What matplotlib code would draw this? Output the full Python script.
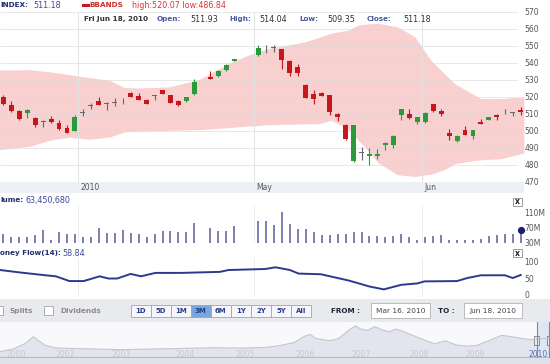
import numpy as np
import matplotlib
matplotlib.use("Agg")
import matplotlib.pyplot as plt
from matplotlib.patches import Rectangle

W, H = 550, 364

# trading-day index of each session shown (gaps = sessions missing in the feed)
day = list(range(0, 25)) + [26, 27, 28, 29] + list(range(32, 66))
opens = [519.9, 515.4, 511.6, 510.6, 507.5, 505.0, 506.7, 504.5, 501.5, 499.8,
         510.4, 514.5, 517.3, 515.9, 516.4, 517.2, 522.0, 520.4, 518.1, 520.6,
         523.7, 520.9, 517.3, 517.3, 521.7,
         531.7, 532.3, 535.7, 541.3,
         544.6, 548.3, 548.8, 547.9, 541.0, 537.3, 527.2, 521.7, 522.5, 520.9,
         510.0, 503.5, 481.8, 486.9, 485.0, 485.1, 491.7, 491.5, 509.5, 510.0,
         505.1, 505.1, 515.6, 511.6, 498.8, 493.8, 500.2, 496.6, 504.9, 506.5,
         509.2, 510.5, 510.6, 511.93]
highs = [520.9, 517.3, 512.0, 513.0, 508.0, 506.4, 508.6, 506.2, 503.2, 509.0,
         512.6, 516.2, 520.0, 516.8, 519.0, 519.3, 523.0, 522.5, 518.5, 520.9,
         524.2, 521.3, 518.3, 520.0, 530.4,
         535.1, 535.8, 539.2, 542.2,
         550.5, 550.5, 550.5, 548.2, 541.5, 539.2, 527.5, 523.8, 523.0, 521.2,
         510.3, 503.8, 503.3, 490.3, 489.5, 488.9, 493.5, 497.2, 513.0, 513.0,
         508.3, 510.8, 516.0, 513.0, 501.2, 497.2, 502.5, 500.5, 507.1, 508.3,
         510.0, 512.6, 510.9, 514.04]
lows = [515.2, 510.8, 506.2, 507.4, 502.0, 502.0, 504.6, 500.5, 498.6, 499.6,
        508.4, 512.6, 515.0, 512.4, 514.4, 516.0, 519.6, 517.8, 515.8, 518.3,
        521.5, 516.4, 514.8, 517.0, 521.3,
        530.5, 531.8, 535.4, 541.0,
        544.3, 545.6, 546.5, 536.1, 532.1, 532.3, 519.3, 516.0, 520.2, 509.1,
        505.5, 494.6, 481.5, 482.4, 479.9, 483.0, 488.3, 490.0, 506.5, 507.0,
        503.7, 504.8, 511.1, 508.5, 494.7, 493.2, 497.3, 494.8, 503.8, 506.0,
        506.5, 510.0, 508.5, 509.35]
closes = [516.0, 511.6, 506.7, 512.0, 503.1, 505.3, 505.1, 500.8, 498.8, 508.0,
          510.6, 514.8, 515.2, 516.1, 516.6, 517.4, 519.9, 518.0, 516.0, 520.8,
          521.7, 516.6, 515.0, 519.7, 528.8,
          530.7, 535.3, 538.6, 542.0,
          548.9, 548.0, 549.0, 541.6, 534.3, 534.3, 519.5, 518.9, 520.5, 511.0,
          508.0, 494.9, 503.1, 487.1, 486.4, 486.3, 493.0, 496.9, 512.6, 507.3,
          508.0, 510.4, 511.4, 510.0, 496.8, 496.8, 497.6, 500.2, 504.1, 508.0,
          508.0, 510.3, 510.4, 511.18]
volume_m = [53, 45, 47, 47, 51, 64.6, 38, 58, 53, 53,
            45, 47, 70.7, 55.8, 55.8, 64.6, 55.8, 53, 47, 53,
            62.8, 62.8, 60, 58, 82,
            70.7, 62, 62.8, 76,
            89, 88, 78, 112, 80, 66, 66, 58, 50, 52,
            55, 55, 58, 58, 48, 48, 45, 48, 55, 45,
            38, 45, 48, 50, 38, 38, 37, 38, 40, 48,
            50, 53, 53, 63.45]

# bollinger band outline
bb_day = [-0.5, 3.3, 5.8, 8.3, 10.8, 13.3, 15.2, 17.1, 20.8, 24.6, 28.3, 30.8,
          33.3, 37.9, 39.6, 41.2, 43.3, 44.6, 45.8, 47.1, 49.5, 51.7, 53.7,
          55.4, 56.7, 59.2, 60.0, 62.5, 65.4]
bb_upper = [535.7, 536.0, 534.7, 533.0, 531.3, 529.8, 525.4, 525.2, 525.8, 530.2,
            539.6, 544.6, 548.5, 552.4, 555.0, 557.5, 559.3, 562.3, 563.0, 563.3,
            561.3, 555.4, 541.6, 533.7, 527.8, 521.0, 518.9, 518.9, 520.07]
bb_lower = [488.8, 490.7, 494.3, 496.2, 494.9, 496.2, 499.2, 499.8, 500.2, 500.6,
            501.8, 502.7, 503.5, 504.0, 504.1, 506.1, 501.0, 494.3, 488.3, 481.0,
            474.0, 473.0, 474.3, 477.0, 480.5, 482.4, 482.8, 483.4, 486.84]

# money flow (14)
mf_day = [-0.4, 2.2, 5.3, 6.6, 8.3, 10.1, 12.1, 13.2, 14.3, 16.0, 17.3, 19.1,
          22.3, 27.2, 28.3, 32.9, 34.2, 36.0, 37.1, 39.9, 43.4, 46.0, 47.8,
          50.0, 52.0, 52.9, 57.0, 58.3, 60.0, 63.0, 64.0, 65.0]
mf_val = [73.5, 66, 58, 55, 41, 41, 55, 48.5, 48.5, 62, 55, 65,
          65, 68, 73.5, 76.5, 81.5, 73.5, 63, 61, 42.5, 25, 16.5,
          30, 34, 40, 41, 50, 58, 58, 50, 58.84]

month_pos = [9.4, 31.5, 52.6]
month_labels = ["2010", "May", "Jun"]
price_ticks = list(range(470, 571, 10))
vol_ticks = [30, 70, 110]
vol_labels = ["30M", "70M", "110M"]
mf_ticks = [0, 50, 100]

# long range navigator
nav_year = [2000.89, 2001.13, 2001.31, 2001.46, 2001.55, 2001.67, 2001.85, 2002.21,
            2002.69, 2002.92, 2003.28, 2003.82, 2004.48, 2005.08, 2005.44, 2005.68,
            2005.92, 2006.10, 2006.19, 2006.28, 2006.52, 2006.67, 2006.79, 2006.87,
            2006.96, 2007.05, 2007.17, 2007.29, 2007.41, 2007.53, 2007.65, 2007.74,
            2007.86, 2008.07, 2008.31, 2008.49, 2008.67, 2008.85, 2009.03, 2009.27,
            2009.45, 2009.63, 2009.81, 2009.99, 2010.17, 2010.28]
nav_level = [6.9, 10.4, 15.7, 23.7, 19.2, 13.9, 11.1, 10.4,
             9.7, 9.3, 9.7, 10.4, 11.4, 11.1, 11.8, 13.9,
             17.4, 24.4, 26.2, 21.6, 19.2, 21.6, 27.9, 32.1,
             35.6, 32.1, 30.7, 34.9, 31.4, 29.0, 32.1, 30.4,
             27.2, 21.6, 15.7, 19.2, 14.6, 13.2, 13.9, 20.2,
             25.1, 23.7, 21.6, 20.2, 21.6, 21.0]
nav_ticks = [2001.16, 2002.0, 2002.96, 2004.06, 2005.07, 2006.1, 2007.05, 2008.04, 2009.0]
nav_labels = ["2000", "2002", "2003", "2004", "2005", "2006", "2007", "2008", "2009"]
sel_start, sel_end = 2010.05, 2010.26

buttons = ["1D", "5D", "1M", "3M", "6M", "1Y", "2Y", "5Y", "All"]
active = "3M"

RED = "#c8161d"
GREEN = "#2b9a3b"
DOJI = "#6c6470"
NAVY = "#1f2c6e"
BLUE = "#3c4ba0"
XLIM = (-0.415, 65.41)


def fx(x):
    return x / W


def fy(y):
    return 1 - y / H


def add_ax(fig, x0, y0, x1, y1):
    ax = fig.add_axes([fx(x0), fy(y1), (x1 - x0) / W, (y1 - y0) / H])
    ax.set_facecolor("none")
    for s in ax.spines.values():
        s.set_visible(False)
    ax.set_xticks([])
    ax.set_yticks([])
    return ax


def box(fig, x0, y0, x1, y1, fc, ec="none", lw=0.6, z=-1):
    fig.add_artist(Rectangle((fx(x0), fy(y1)), (x1 - x0) / W, (y1 - y0) / H,
                             transform=fig.transFigure, fc=fc, ec=ec, lw=lw, zorder=z))


def label(fig, x, y, s, color, size=5.5, weight="normal", ha="left"):
    fig.text(fx(x), fy(y), s, color=color, fontsize=size, fontweight=weight,
             ha=ha, va="center")


def right_ticks(ax, ticks, labels=None):
    ax.yaxis.tick_right()
    ax.set_yticks(ticks)
    if labels is not None:
        ax.set_yticklabels(labels)
    ax.tick_params(axis="y", length=0, pad=0.5, labelsize=5.5, labelcolor="#555555")


fig = plt.figure(figsize=(5.5, 3.64), dpi=100)
fig.patch.set_facecolor("white")

# ---- price panel
ax = add_ax(fig, 0, 12, 524, 181.5)
ax.set_xlim(*XLIM)
ax.set_ylim(470, 570)
ax.fill_between(bb_day, bb_lower, bb_upper, color="#f8d0cf", lw=0, zorder=1)
ax.hlines(price_ticks, XLIM[0], 64.55, color="#d9d9d9", lw=0.6, alpha=0.7, zorder=2)
ax.vlines(month_pos, 470, 570, color="#e2e2e2", lw=0.7, zorder=2)
o = np.array(opens)
c = np.array(closes)
cols = []
for oi, ci in zip(o, c):
    if abs(ci - oi) < 0.45:
        cols.append(DOJI)
    elif ci > oi:
        cols.append(GREEN)
    else:
        cols.append(RED)
ax.vlines(day, lows, highs, color=cols, lw=0.8, zorder=3)
ax.bar(day, np.maximum(np.abs(c - o), 0.4), bottom=np.minimum(o, c), width=0.62,
       color=cols, lw=0, zorder=4)
right_ticks(ax, price_ticks)

# date band
axd = add_ax(fig, 0, 181.5, 524, 193)
axd.set_facecolor("#eef0f7")
axd.set_xlim(*XLIM)
axd.set_ylim(0, 1)
for p, s in zip(month_pos, month_labels):
    axd.text(p + 0.25, 0.5, s, fontsize=5.5, color="#555555", va="center", ha="left")

# header lines
label(fig, 0, 5, "INDEX:", NAVY, 5.2, "bold")
label(fig, 33, 5, "511.18", BLUE, 5.8)
box(fig, 82, 3.5, 89.5, 7, RED, z=2)
label(fig, 89.5, 5, "BBANDS", "#d42a2a", 5.2, "bold")
label(fig, 132, 5, "high:520.07 low:486.84", "#d9373a", 5.8)

label(fig, 84, 19, "Fri Jun 18, 2010", "#333333", 5.2, "bold")
for x, s in [(157, "Open:"), (229, "High:"), (299, "Low:"), (367, "Close:")]:
    label(fig, x, 19, s, "#4a5a9c", 5.2, "bold")
for x, s in [(190, "511.93"), (259, "514.04"), (327, "509.35"), (403, "511.18")]:
    label(fig, x, 19, s, "#333333", 5.8)

# ---- volume panel
axv = add_ax(fig, 0, 205, 524, 243)
axv.set_xlim(*XLIM)
axv.set_ylim(30, 131)
axv.vlines(month_pos, 30, 131, color="#ececec", lw=0.7)
axv.vlines(day, 0, volume_m, color="#5a5a9a", lw=1.1)
axv.plot(day[-1], volume_m[-1], "o", color="#1a2170", ms=4.2, clip_on=False)
right_ticks(axv, vol_ticks, vol_labels)
label(fig, 0, 200, "lume:", NAVY, 5.2, "bold")
label(fig, 25, 200, "63,450,680", BLUE, 5.8)

# ---- money flow panel
axm = add_ax(fig, 0, 257, 524, 297)
axm.set_xlim(*XLIM)
axm.set_ylim(-5.9, 111.8)
axm.vlines(month_pos, -5.9, 111.8, color="#ececec", lw=0.7)
axm.plot(mf_day, mf_val, color="#2b3a8c", lw=1.4)
right_ticks(axm, mf_ticks)
label(fig, 0, 253, "oney Flow(14):", NAVY, 5.2, "bold")
label(fig, 62, 253, "58.84", BLUE, 5.8)

# close boxes
for y0 in (197.5, 249):
    box(fig, 513, y0, 522, y0 + 8, "white", "#888888", 0.6, z=2)
    label(fig, 517.5, y0 + 4, "x", "#222222", 5.5, "bold", "center")

# ---- toolbar
box(fig, 0, 299, 550, 322, "#e9eaee")
box(fig, -2, 306, 3, 315, "white", "#a0a0a8")
label(fig, 10, 311, "Splits", "#8a8a90", 5.2, "bold")
box(fig, 44, 306, 53, 315, "white", "#a0a0a8")
label(fig, 60, 311, "Dividends", "#8a8a90", 5.2, "bold")
bx = 130.5
for b in buttons:
    fc = "#7aa6dc" if b == active else "#f6f7fb"
    box(fig, bx, 305, bx + 20, 317, fc, "#9aa3c0", 0.6)
    label(fig, bx + 10, 311, b, "#1f3f8f" if b == active else "#2c3f8c", 5.0, "bold", "center")
    bx += 20.1
label(fig, 331, 311, "FROM :", "#222233", 5.2, "bold")
box(fig, 371, 303, 430, 318, "white", "#b0b0b8")
label(fig, 400.5, 311, "Mar 16. 2010", "#444444", 5.3, ha="center")
label(fig, 438, 311, "TO :", "#222233", 5.2, "bold")
box(fig, 464, 303, 522, 318, "white", "#b0b0b8")
label(fig, 493, 311, "Jun 18. 2010", "#444444", 5.3, ha="center")

# ---- navigator
box(fig, 0, 322, 550, 358, "#f9f9fb")
axn = add_ax(fig, 0, 322, 550, 358)
axn.set_xlim(2000.89, 2010.28)
axn.set_ylim(0, 40)
axn.fill_between(nav_year, 0, nav_level, color="#e3e5ee", lw=0)
axn.plot(nav_year, nav_level, color="#c3c6d3", lw=0.8)
axn.axhline(1.2, color="#b8bac4", lw=0.8)
for p, s in zip(nav_ticks, nav_labels):
    axn.text(p, 3.5, s, fontsize=5.5, color="#c6c8d2", ha="center", va="center")
axn.axvspan(sel_start, sel_end, color="#dfe6f3", lw=0)
axn.axvline(sel_start, color="#5b8fd0", lw=0.8)
axn.axvline(sel_end, color="#5b8fd0", lw=0.8)
for xs in (sel_start, sel_end):
    axn.add_patch(Rectangle((xs - 0.035, 15), 0.07, 9, fc="#f2f2f2", ec="#777777", lw=0.6))
axn.text(2010.07, 3.5, "2010", fontsize=5.5, color="#5b6fb0", ha="center", va="center")
box(fig, 0, 358, 550, 364, "#e1e2e7")

fig.savefig("out.png", dpi=100)
